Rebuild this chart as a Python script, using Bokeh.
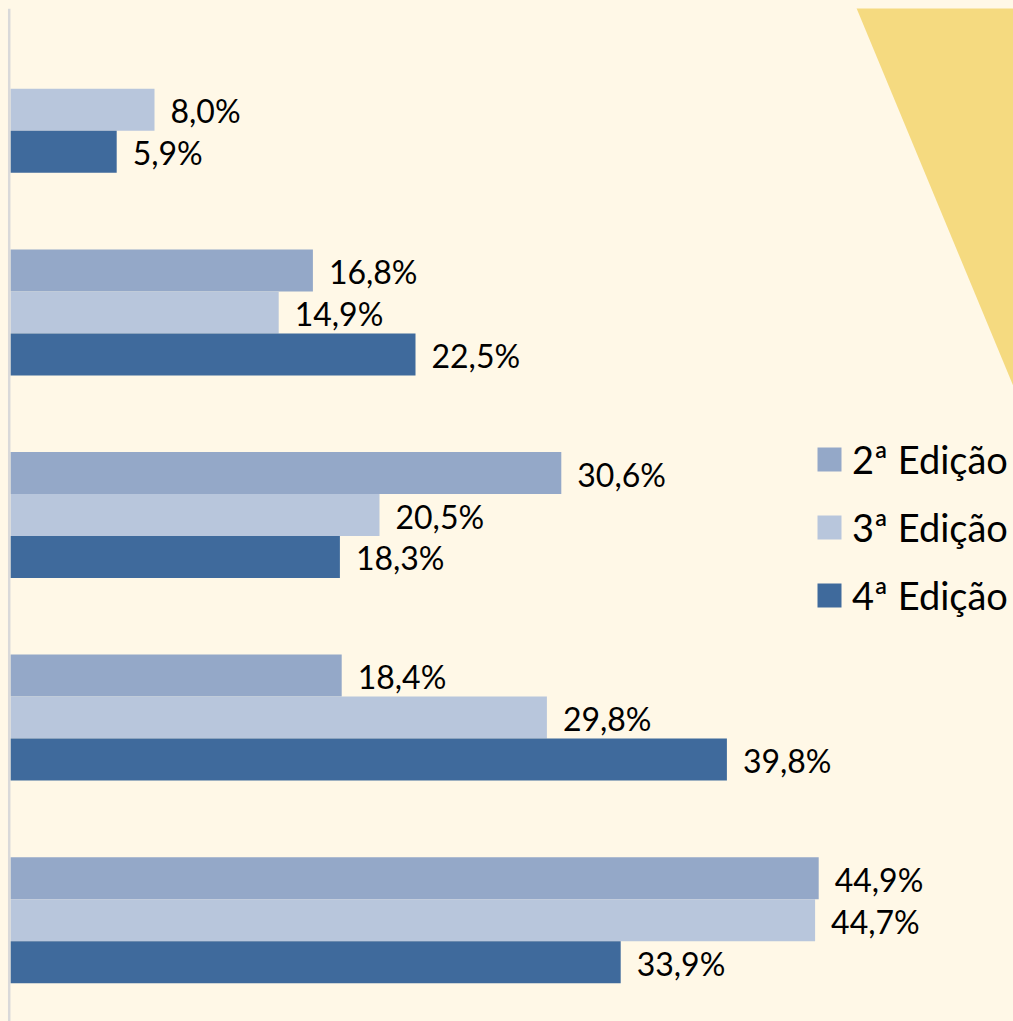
import math
from bokeh.plotting import figure
from bokeh.models import (FactorRange, Range1d, ColumnDataSource, LabelSet, Legend,
                          LegendItem, Span, PolyAnnotation)
from bokeh.transform import dodge
from bokeh.core.properties import value
from bokeh.embed import file_html
from bokeh.resources import INLINE

# ---- data ----
groups = ["Grupo 1", "Grupo 2", "Grupo 3", "Grupo 4", "Grupo 5"]
series = ["2ª Edição", "3ª Edição", "4ª Edição"]
ed2 = [float("nan"), 16.8, 30.6, 18.4, 44.9]
ed3 = [8.0, 14.9, 20.5, 29.8, 44.7]
ed4 = [5.9, 22.5, 18.3, 39.8, 33.9]

BG = "#FFF8E7"
COLORS = ["#94A8C8", "#B8C6DC", "#3F6A9C"]
FONT = "Lato"

def fmt(v):
    if v is None or (isinstance(v, float) and math.isnan(v)):
        return ""
    return f"{v:.1f}".replace(".", ",") + "%"

p = figure(width=1013, height=1021,
           y_range=FactorRange(factors=list(reversed(groups))),
           x_range=Range1d(-10 / 18, 1003 / 18),
           output_backend="svg", toolbar_location=None,
           x_axis_location=None, y_axis_location=None,
           min_border=0, min_border_top=8,
           background_fill_color=BG, border_fill_color=BG,
           outline_line_color=None)
p.grid.visible = False

# decorative yellow shape top-right
p.add_layout(PolyAnnotation(xs=[46.78, 56.0, 56.0], ys=[5.049, 5.049, 3.075],
                            fill_color="#F5DA80", fill_alpha=1.0, line_color=None,
                            level="underlay"))

# vertical axis line
p.add_layout(Span(location=-0.072, dimension="height", line_color="#D9D9D9",
                  line_width=2.5))

BAR_H = 0.2073
offsets = [BAR_H, 0.0, -BAR_H]
renderers = []
for name, vals, col, off in zip(series, [ed2, ed3, ed4], COLORS, offsets):
    src = ColumnDataSource(dict(g=groups, v=vals, t=[fmt(v) for v in vals]))
    r = p.hbar(y=dodge("g", off, range=p.y_range), right="v", left=0, height=BAR_H,
               fill_color=col, line_color=None, source=src)
    renderers.append(r)
    p.add_layout(LabelSet(x="v", y=dodge("g", off, range=p.y_range), text="t",
                          source=src, x_offset=16, y_offset=-1,
                          text_baseline="middle", text_align="left",
                          text_font=value(FONT), text_font_size="32px",
                          text_color="#000000"))

legend = Legend(items=[LegendItem(label=s, renderers=[r]) for s, r in zip(series, renderers)],
                location=(814, 403), orientation="vertical",
                label_text_font=FONT, label_text_font_size="38px", label_text_color="#000000",
                glyph_width=30, glyph_height=30, label_standoff=8, spacing=22,
                padding=0, margin=0, background_fill_alpha=0, border_line_alpha=0)
p.add_layout(legend)

html = file_html(p, INLINE)
html = html.replace("<head>", "<head><style>html,body{background:#FFF8E7;overflow:hidden;}</style>", 1)
open("out.html", "w").write(html)
